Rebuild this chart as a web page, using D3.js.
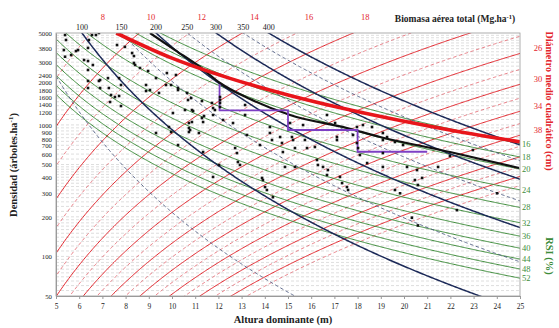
<!DOCTYPE html>
<html>
<head>
<meta charset="utf-8">
<script src="https://cdn.jsdelivr.net/npm/d3@7"></script>
<style>
  body { margin: 0; background: #fff; }
  svg text { font-family: "Liberation Serif", "DejaVu Serif", serif; }
</style>
</head>
<body>
<div id="chart"></div>
<script>
// ---- data ----
var xTicks = [5, 6, 7, 8, 9, 10, 11, 12, 13, 14, 15, 16, 17, 18, 19, 20, 21, 22, 23, 24, 25];
var yTicks = [50, 100, 200, 300, 400, 500, 600, 700, 800, 900, 1000, 1200, 1400, 1600, 1800, 2000, 2400, 3000, 3800, 5000];
// where the crowded labels were nudged to in the original (N value of the text centre)
var yLabelPos = { 800: 781, 900: 875, 1200: 1254, 1400: 1429, 1600: 1622, 1800: 1843, 2000: 2102 };

// isoline levels
var rsiLevels = [16, 18, 20, 24, 28, 32, 36, 40, 44, 48, 52];
var dqLevels = [6, 8, 10, 12, 14, 16, 18, 20, 22, 24, 26, 28, 30, 32, 34, 36, 38, 40, 42, 44, 46, 48];
var dqTopLabels = [8, 10, 12, 14, 16, 18];
var dqRightLabels = [26, 30, 34, 38];
var biomassLevels = [50, 100, 150, 200, 250, 300, 350, 400];
var biomassLabels = [100, 150, 200, 250, 300, 350, 400];

// model coefficients (Dq = a N^b H^c ; W = k N^p H^q)
var dqModel = { a: 16.93, b: -0.265, c: 0.805 };
var biomassModel = { k: 0.0848, p: 0.479, q: 1.652 };

// self-thinning lines [H, N]
var maxDensity = [[7.6, 5000], [10, 3220], [12.5, 2260], [15, 1690], [17.5, 1320], [20, 1065], [22.5, 880], [25, 744]];
var lowerLimit = [[9.05, 5000], [10.13, 3710], [11.21, 2757], [12.07, 2084], [13.36, 1574], [15.09, 1190], [17.54, 947], [18.97, 810], [21.98, 622], [24.96, 470]];

// thinning schedule [H, N]
var thinning = [[12.05, 2050], [12.05, 1290], [15, 1290], [15, 915], [18, 915], [18, 625], [21, 625]];

// sample plots [H, N]
var plots = [
  [5.39, 4825], [5.43, 4425], [5.34, 3710], [5.39, 3300], [5.65, 3400], [5.86, 3645], [5.95, 3710], [6.21, 3116],
  [6.38, 3850], [6.38, 3062], [6.38, 2616], [6.38, 2158], [6.38, 1908], [6.42, 4425], [6.55, 4825], [6.59, 2855],
  [6.72, 4825], [6.85, 5000], [6.85, 2158], [6.9, 2196], [6.9, 1908], [7.24, 2270], [7.28, 1908], [7.37, 1689],
  [7.33, 1494], [7.63, 4050], [7.54, 1630], [7.72, 2270], [7.8, 2012], [7.72, 1660], [7.8, 1392], [7.97, 3920],
  [8.28, 3520], [8.36, 3340], [8.41, 2855], [8.36, 2960], [8.62, 2710], [8.88, 2012], [8.88, 1811], [8.97, 2570],
  [9.05, 1843], [9.31, 2270], [9.44, 1750], [9.74, 2012], [9.78, 2480], [9.96, 2012], [10.04, 1232], [10.17, 2397],
  [10.26, 1908], [10.26, 1843], [10.65, 1750], [10.69, 1547], [10.82, 1600], [10.86, 1298], [10.91, 1275],
  [11.29, 1520], [11.38, 1169], [11.77, 1344], [9.31, 868], [9.87, 964], [9.96, 883], [10.26, 703], [10.73, 1034],
  [10.73, 947], [10.73, 883], [11.16, 868], [11.34, 622], [11.77, 402], [12.03, 496],
  [10.56, 1298], [10.86, 1052], [10.78, 915], [11.29, 1129], [11.34, 1052], [11.72, 1468], [11.77, 1190],
  [11.85, 1298], [12.07, 1630], [12.07, 1547], [12.07, 1468], [12.07, 1368], [12.2, 1090], [12.63, 1034],
  [12.72, 667], [12.8, 611], [12.84, 522], [12.93, 496], [13.15, 1190], [13.15, 1417], [13.23, 838], [13.79, 703],
  [13.88, 395], [13.92, 381], [14.01, 337], [14.09, 320], [14.22, 964], [14.22, 868], [14.31, 768], [14.35, 282],
  [14.66, 809], [14.74, 728], [14.78, 622], [14.87, 479], [15.09, 1034], [15.17, 809], [15.22, 768], [15.3, 667],
  [15.3, 479], [15.65, 998], [15.73, 768], [15.82, 667], [16.16, 679], [16.25, 541], [16.29, 496], [16.51, 479],
  [16.68, 416], [16.72, 454], [16.68, 1190], [17.03, 1034], [17.11, 809], [17.11, 768], [17.24, 402], [17.33, 361],
  [17.54, 337], [17.59, 320], [17.8, 838], [17.97, 728], [17.97, 964], [18.02, 667], [18.1, 590], [18.23, 998],
  [18.41, 513], [18.62, 964], [19.09, 868], [19.09, 768], [19.27, 809], [19.61, 741], [19.96, 703], [19.09, 611],
  [19.09, 479], [20.13, 479], [20.56, 454], [20.47, 381], [20.78, 395], [21.47, 479], [19.61, 320], [19.83, 302],
  [20.6, 349], [21.98, 580], [22.97, 644], [24.01, 302], [22.28, 225], [20.34, 197], [20.6, 172]
];

// ---- chart ----
var width = 559, height = 328;
var svg = d3.select("#chart").append("svg").attr("width", width).attr("height", height);

var x = d3.scaleLinear().domain([5, 25]).range([56, 520]);
var y = d3.scaleLog().domain([50, 5000]).range([296, 33]);

svg.append("clipPath").attr("id", "plotclip")
  .append("rect").attr("x", 56).attr("y", 33).attr("width", 464).attr("height", 263);

var plot = svg.append("g").attr("clip-path", "url(#plotclip)");

// dense horizontal grid
var gridVals = [];
for (var v = 55; v < 100; v += 5) gridVals.push(v);
for (v = 100; v < 200; v += 10) gridVals.push(v);
for (v = 200; v < 500; v += 20) gridVals.push(v);
for (v = 500; v < 1000; v += 50) gridVals.push(v);
for (v = 1000; v < 2000; v += 100) gridVals.push(v);
for (v = 2000; v < 5000; v += 200) gridVals.push(v);
plot.selectAll(".grid").data(gridVals).enter().append("line")
  .attr("x1", 56).attr("x2", 520)
  .attr("y1", function (d) { return y(d); }).attr("y2", function (d) { return y(d); })
  .attr("stroke", "#c8c8c8").attr("stroke-width", 0.6).attr("stroke-dasharray", "3,2");

var hs = d3.range(4.5, 25.51, 0.05);
var line = d3.line().x(function (d) { return x(d[0]); }).y(function (d) { return y(d[1]); });

function dqCurve(dq) {
  return hs.map(function (h) {
    return [h, Math.pow(dq / (dqModel.a * Math.pow(h, dqModel.c)), 1 / dqModel.b)];
  });
}
function rsiCurve(r) {
  return hs.map(function (h) {
    var s = r / 100 * h;
    return [h, 20000 / (Math.sqrt(3) * s * s)];
  });
}
function biomassCurve(w) {
  return hs.map(function (h) {
    return [h, Math.pow(w / (biomassModel.k * Math.pow(h, biomassModel.q)), 1 / biomassModel.p)];
  });
}
function clampCurve(pts) {
  return pts.filter(function (p) { return p[1] > 20 && p[1] < 20000; });
}

// diameter lines (solid every 4 cm, dashed in between)
dqLevels.forEach(function (dq) {
  var solid = (dq % 4 === 2);
  plot.append("path").attr("d", line(clampCurve(dqCurve(dq))))
    .attr("fill", "none")
    .attr("stroke", solid ? "#e3262d" : "#e2606a")
    .attr("stroke-width", solid ? 1 : 0.8)
    .attr("stroke-dasharray", solid ? null : "3.5,2.5");
});

// RSI lines
rsiLevels.forEach(function (r) {
  plot.append("path").attr("d", line(clampCurve(rsiCurve(r))))
    .attr("fill", "none").attr("stroke", "#3d8c3a").attr("stroke-width", 1);
});

// biomass lines
biomassLevels.forEach(function (w) {
  var solid = (w % 100 === 0);
  plot.append("path").attr("d", line(clampCurve(biomassCurve(w))))
    .attr("fill", "none")
    .attr("stroke", solid ? "#1c2a58" : "#4d5a80")
    .attr("stroke-width", solid ? 1.5 : 0.9)
    .attr("stroke-dasharray", solid ? null : "3.5,2.5");
});

var smooth = d3.line().curve(d3.curveMonotoneX)
  .x(function (d) { return x(d[0]); }).y(function (d) { return y(d[1]); });

plot.append("path").attr("d", smooth(lowerLimit))
  .attr("fill", "none").attr("stroke", "#111").attr("stroke-width", 2.2);
plot.append("path").attr("d", smooth(maxDensity))
  .attr("fill", "none").attr("stroke", "#e8151b").attr("stroke-width", 3.6);

plot.append("path").attr("d", line(thinning))
  .attr("fill", "none").attr("stroke", "#7d3fc4").attr("stroke-width", 1.8);

plot.selectAll(".pt").data(plots).enter().append("rect")
  .attr("x", function (d) { return x(d[0]) - 1.3; })
  .attr("y", function (d) { return y(d[1]) - 1.3; })
  .attr("width", 2.6).attr("height", 2.6).attr("fill", "#111");

// frame
svg.append("rect").attr("x", 56).attr("y", 33).attr("width", 464).attr("height", 263)
  .attr("fill", "none").attr("stroke", "#9a9a9a").attr("stroke-width", 0.8);

// axes
var xAxis = svg.append("g").attr("transform", "translate(0,296)")
  .call(d3.axisBottom(x).tickValues(xTicks).tickSize(3).tickFormat(d3.format("d")));
var yAxis = svg.append("g").attr("transform", "translate(56,0)")
  .call(d3.axisLeft(y).tickValues(yTicks).tickSize(0).tickPadding(4).tickFormat(d3.format("d")));
[xAxis, yAxis].forEach(function (a) {
  a.select(".domain").attr("stroke", "#9a9a9a");
  a.selectAll(".tick line").attr("stroke", "#9a9a9a");
  a.selectAll("text").attr("font-size", 7.5).attr("fill", "#222")
    .style("font-family", '"Liberation Serif", serif');
});
yAxis.selectAll("text").attr("font-size", 6.8);
xAxis.selectAll("text").attr("dy", "0.9em");
// spread the crowded density labels the way the original does
yAxis.selectAll(".tick text").attr("y", function (d) {
  return yLabelPos[d] ? y(yLabelPos[d]) - y(d) : 0;
});

// top labels: diameter (red) near line crossings with the top edge
dqTopLabels.forEach(function (dq) {
  var h = Math.pow(dq / (dqModel.a * Math.pow(5000, dqModel.b)), 1 / dqModel.c);
  svg.append("text").attr("x", x(h) + 12).attr("y", 20)
    .attr("text-anchor", "middle").attr("font-size", 8.5).attr("fill", "#e3262d").text(dq);
});
dqRightLabels.forEach(function (dq) {
  var n = Math.pow(dq / (dqModel.a * Math.pow(25, dqModel.c)), 1 / dqModel.b);
  svg.append("text").attr("x", 538).attr("y", y(n) - 2)
    .attr("text-anchor", "middle").attr("font-size", 8.5).attr("fill", "#e3262d").text(dq);
});

// biomass labels along the top
biomassLabels.forEach(function (w) {
  var h = Math.pow(w / (biomassModel.k * Math.pow(5000, biomassModel.p)), 1 / biomassModel.q);
  svg.append("text").attr("x", x(h)).attr("y", 30)
    .attr("text-anchor", "middle").attr("font-size", 8).attr("fill", "#222").text(w);
});

// RSI labels on the right
rsiLevels.forEach(function (r) {
  var s = r / 100 * 25;
  var n = 20000 / (Math.sqrt(3) * s * s);
  svg.append("text").attr("x", 522).attr("y", y(n) + 3)
    .attr("font-size", 8.5).attr("fill", "#3d8c3a").text(r);
});

// titles
svg.append("text").attr("x", 283).attr("y", 323).attr("text-anchor", "middle")
  .attr("font-size", 10.5).attr("font-weight", "bold").attr("fill", "#222").text("Altura dominante (m)");

var yt = svg.append("text").attr("transform", "translate(17,165) rotate(-90)").attr("text-anchor", "middle")
  .attr("font-size", 10.5).attr("font-weight", "bold").attr("fill", "#222");
yt.append("tspan").text("Densidad (árboles.ha");
yt.append("tspan").attr("font-size", 7).attr("dy", -4).text("-1");
yt.append("tspan").attr("dy", 4).text(")");

var bt = svg.append("text").attr("x", 455).attr("y", 22).attr("text-anchor", "middle")
  .attr("font-size", 9.5).attr("font-weight", "bold").attr("fill", "#222");
bt.append("tspan").text("Biomasa aérea total (Mg.ha");
bt.append("tspan").attr("font-size", 6.5).attr("dy", -3.5).text("-1");
bt.append("tspan").attr("dy", 3.5).text(")");

svg.append("text").attr("transform", "translate(546,101) rotate(90)").attr("text-anchor", "middle")
  .attr("font-size", 10).attr("font-weight", "bold").attr("fill", "#e3262d").text("Diámetro medio cuadrático (cm)");

svg.append("text").attr("transform", "translate(546,256) rotate(90)").attr("text-anchor", "middle")
  .attr("font-size", 10.5).attr("font-weight", "bold").attr("fill", "#3d8c3a").text("RSI (%)");
</script>
</body>
</html>
